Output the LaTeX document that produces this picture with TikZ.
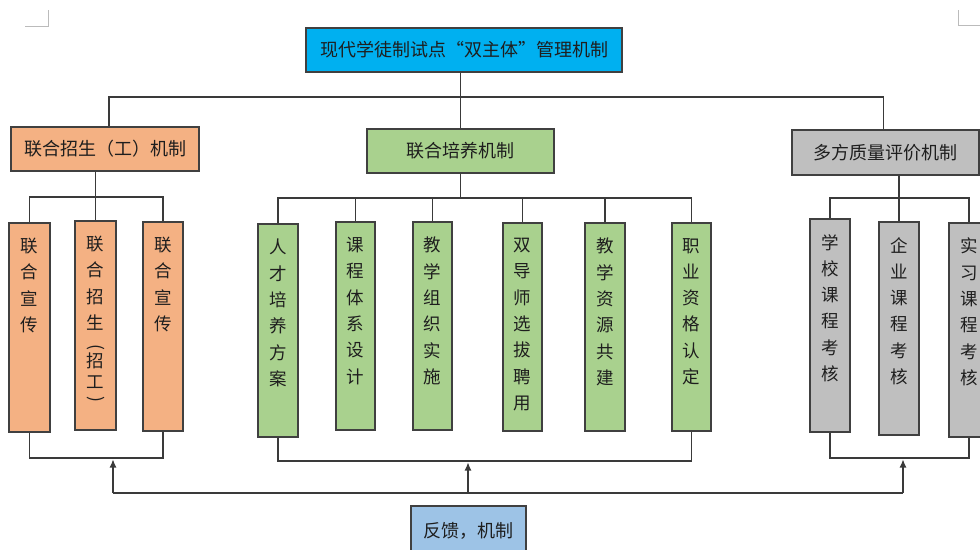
\documentclass[tikz,border=0pt]{standalone}
\usepackage{fontspec}
\usepackage{graphicx}
\newfontfamily\cjk{Noto Sans CJK SC}
\usetikzlibrary{arrows.meta}
\definecolor{topblue}{HTML}{00B0F0}
\definecolor{orangefill}{HTML}{F4B183}
\definecolor{greenfill}{HTML}{A9D18E}
\definecolor{grayfill}{HTML}{BFBFBF}
\definecolor{fbblue}{HTML}{9DC3E6}
\definecolor{bordergray}{HTML}{404040}
\definecolor{linegray}{HTML}{3A3A3A}
\definecolor{txt}{HTML}{1E1E1E}
\definecolor{cornergray}{HTML}{BBBBBB}
\tikzset{
 box/.style={draw=bordergray, line width=1.1pt, inner sep=0pt},
 ob/.style={box, fill=orangefill},
 gb/.style={box, fill=greenfill},
 yb/.style={box, fill=grayfill},
 htext/.style={font=\cjk\fontsize{18}{22}\selectfont, text=txt},
 vtext/.style={font=\cjk\fontsize{17.5}{26.3}\selectfont, text=txt, align=center, inner sep=0pt},
 conn/.style={draw=linegray, line width=1.1pt},
 fbarrow/.style={conn, -{Latex[length=8pt,width=7pt]}},
 cornermark/.style={draw=cornergray, line width=0.8pt},
}
\newcommand\colbox[7]{%
 \node[#6, minimum width={#3-#2}, minimum height={#5-#4}] (#1) at ({(#2+#3)/2},{(#4+#5)/2}) {};
 \node[vtext, anchor=north] (#1t) at ([yshift=-15.5pt]#1.north) {#7};}
\newcommand\rp[1]{\rotatebox[origin=c]{-90}{#1}}
\begin{document}
\begin{tikzpicture}[x=1pt,y=-1pt]
\useasboundingbox (0,0) rectangle (980,549);
\clip (0,0) rectangle (980,549);
% corner marks
\draw[cornermark] (25,26) -- (48,26) -- (48,10);
\draw[cornermark] (958,10) -- (958,25) -- (980,25);
% main boxes
\node[box, fill=topblue, minimum width=316, minimum height=44, htext] (top) at (464,50) {现代学徒制试点“双主体”管理机制};
\node[ob, minimum width=188, minimum height=44, htext] (L) at (105,149) {联合招生（工）机制};
\node[gb, minimum width=187, minimum height=44, htext] (M) at (460.5,151) {联合培养机制};
\node[yb, minimum width=187, minimum height=45, htext] (R) at (885.5,152.5) {多方质量评价机制};
\node[box, fill=fbblue, minimum width=115, minimum height=50, htext] (FB) at (468.5,531) {反馈，机制};
% sub boxes
\colbox{L1}{9}{50}{223}{432}{ob}{联\\合\\宣\\传}
\colbox{L2}{75}{116}{221}{430}{ob}{联\\合\\招\\生\\[-2.5pt]\rp{(}\\[-12pt]招\\[-5pt]工\\[-10pt]\rp{)}}
\colbox{L3}{143}{183}{222}{431}{ob}{联\\合\\宣\\传}
\colbox{M1}{258}{298}{224}{437}{gb}{人\\才\\培\\养\\方\\案}
\colbox{M2}{336}{375}{222}{430}{gb}{课\\程\\体\\系\\设\\计}
\colbox{M3}{413}{452}{222}{430}{gb}{教\\学\\组\\织\\实\\施}
\colbox{M4}{503}{542}{223}{431}{gb}{双\\导\\师\\选\\拔\\聘\\用}
\colbox{M5}{585}{625}{223}{431}{gb}{教\\学\\资\\源\\共\\建}
\colbox{M6}{672}{711}{223}{431}{gb}{职\\业\\资\\格\\认\\定}
\colbox{R1}{810}{850}{219}{432}{yb}{学\\校\\课\\程\\考\\核}
\colbox{R2}{879}{919}{222}{435}{yb}{企\\业\\课\\程\\考\\核}
\colbox{R3}{949}{989}{223}{437}{yb}{实\\习\\课\\程\\考\\核}
% hubs
\coordinate (hubT) at (460.5,97);
\coordinate (hubL) at (95.5,197);
\coordinate (hubM) at (460.5,198);
\coordinate (hubR) at (899,198);
\coordinate (botL) at (96,458);
\coordinate (botM) at (468,461);
\coordinate (botR) at (903,458);
\coordinate (fbL) at (113,493);
\coordinate (fbM) at (468,493);
\coordinate (fbR) at (903,493);
% top level connectors
\draw[conn] (top.south -| M.north) -- (M.north);
\draw[conn] ([xshift=4pt]L.north) |- (hubT) -| ([xshift=-2pt]R.north);
% left subtree
\draw[conn] (L2.north |- L.south) -- (L2.north);
\draw[conn] (L1.north) |- (hubL) -| (L3.north);
% middle subtree
\draw[conn] (M.south) -- (hubM);
\draw[conn] (M1.north) |- (hubM) -| (M6.north);
\foreach \n in {M2,M3,M4,M5} \draw[conn] (\n.north) -- (\n.north |- hubM);
% right subtree
\draw[conn] (R2.north |- R.south) -- (R2.north);
\draw[conn] (R1.north) |- (hubR) -| (R3.north);
% bottom feedback lines
\draw[conn] (L1.south) |- (botL) -| (L3.south);
\draw[conn] (M1.south) |- (botM) -| (M6.south);
\draw[conn] (R1.south) |- (botR) -| (R3.south);
\draw[conn] (fbL) -- (fbR);
\draw[fbarrow] (fbL) -- (113,459.5);
\draw[fbarrow] (fbM) -- (468,462.5);
\draw[fbarrow] (fbR) -- (903,459.5);
\end{tikzpicture}
\end{document}
